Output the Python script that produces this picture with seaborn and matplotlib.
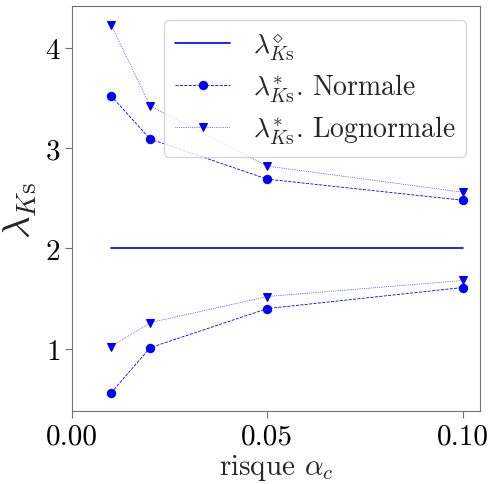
import matplotlib
matplotlib.use("Agg")
import matplotlib.pyplot as plt
import seaborn as sns

sns.set_style("ticks")
plt.rcParams['font.family'] = 'serif'
plt.rcParams['font.serif'] = ['cmr10']
plt.rcParams['mathtext.fontset'] = 'cm'
plt.rcParams['axes.formatter.use_mathtext'] = True
plt.rcParams['axes.unicode_minus'] = False
plt.rcParams['axes.edgecolor'] = '0.45'
plt.rcParams['xtick.color'] = '0.45'
plt.rcParams['ytick.color'] = '0.45'
plt.rcParams['xtick.labelcolor'] = 'black'
plt.rcParams['ytick.labelcolor'] = 'black'

alpha = [0.01, 0.02, 0.05, 0.10]
ref = [2.0, 2.0, 2.0, 2.0]
norm_up = [3.52, 3.09, 2.69, 2.48]
norm_lo = [0.56, 1.01, 1.40, 1.61]
logn_up = [4.23, 3.42, 2.82, 2.56]
logn_lo = [1.02, 1.26, 1.52, 1.68]

fig, ax = plt.subplots(figsize=(4.9, 4.85), dpi=100)
blue = '#0000ff'

sns.lineplot(x=alpha, y=ref, ax=ax, color=blue, lw=1.2, label=r'$\lambda^{\diamond}_{K\mathrm{s}}$')
sns.lineplot(x=alpha, y=norm_up, ax=ax, color=blue, lw=0.6, ls='--', marker='o', ms=6,
             markeredgecolor=blue, label=r'$\lambda^{*}_{K\mathrm{s}}$. Normale')
sns.lineplot(x=alpha, y=norm_lo, ax=ax, color=blue, lw=0.6, ls='--', marker='o', ms=6,
             markeredgecolor=blue)
sns.lineplot(x=alpha, y=logn_up, ax=ax, color=blue, lw=0.5, ls=':', marker='v', ms=6,
             markeredgecolor=blue, label=r'$\lambda^{*}_{K\mathrm{s}}$. Lognormale')
sns.lineplot(x=alpha, y=logn_lo, ax=ax, color=blue, lw=0.5, ls=':', marker='v', ms=6,
             markeredgecolor=blue)

ax.set_xlim(left=0)
ax.set_xticks([0.0, 0.05, 0.10])
ax.set_xticklabels(['0.00', '0.05', '0.10'])
ax.set_yticks([1, 2, 3, 4])
ax.tick_params(labelsize=21, length=5, width=0.8)
ax.set_xlabel(r'risque $\alpha_c$', fontsize=21, labelpad=2)
ax.set_ylabel(r'$\lambda_{K\mathrm{s}}$', fontsize=28, labelpad=4)
ax.legend(loc='upper right', fontsize=20, frameon=True, handlelength=2.0,
          borderaxespad=0.5, labelspacing=0.35)

fig.subplots_adjust(left=0.147, right=0.98, top=0.985, bottom=0.15)
fig.savefig('out.png', dpi=100)
